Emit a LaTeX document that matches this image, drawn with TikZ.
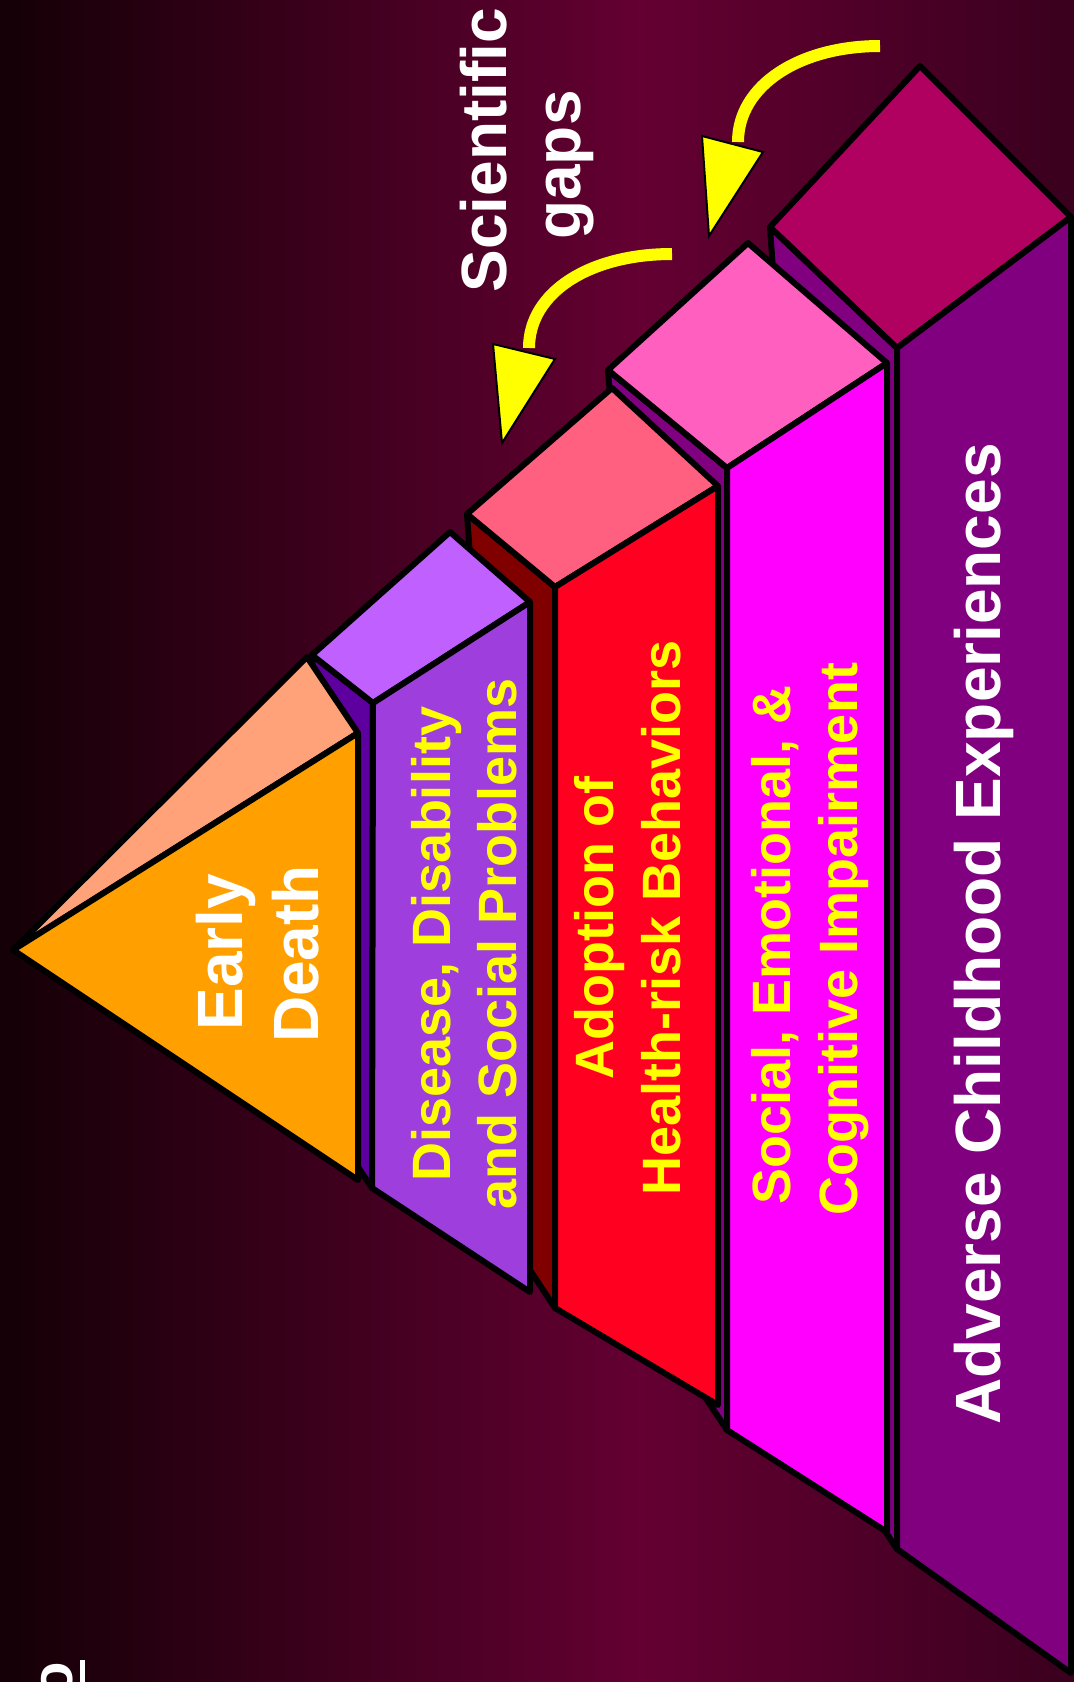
\documentclass[tikz,border=0pt]{standalone}
\usepackage{fontspec}
\setmainfont{Liberation Sans}
\usetikzlibrary{positioning,calc}

\definecolor{bgdark}{HTML}{140006}
\definecolor{bgmid}{HTML}{640032}
\definecolor{bgright}{HTML}{3A001E}
\definecolor{deathfront}{HTML}{FF9F00}
\definecolor{deathside}{HTML}{FFA27A}
\definecolor{disfront}{HTML}{9D3EDD}
\definecolor{distop}{HTML}{BF60FF}
\definecolor{disside}{HTML}{5E00A0}
\definecolor{adofront}{HTML}{FF0020}
\definecolor{adotop}{HTML}{FF6080}
\definecolor{adoside}{HTML}{800000}
\definecolor{socfront}{HTML}{FF00FF}
\definecolor{soctop}{HTML}{FF60C0}
\definecolor{socside}{HTML}{800080}
\definecolor{acefront}{HTML}{800080}
\definecolor{acetop}{HTML}{B00060}
\definecolor{aceside}{HTML}{800080}
\definecolor{textyellow}{HTML}{FFFF00}

\begin{document}
\begin{tikzpicture}[x=1pt,y=-1pt,
		face/.style={draw=black,line width=6pt,line join=round},
		lbl/.style={rotate=90,anchor=base,inner sep=0pt,text=textyellow,
			font=\bfseries\fontsize{54}{60}\selectfont},
		biglbl/.style={lbl,text=white,font=\bfseries\fontsize{64}{70}\selectfont},
		gapshaft/.style={draw=textyellow,line width=12pt},
		gaphead/.style={fill=textyellow,draw=black,line width=2pt,line join=miter}
	]
		\useasboundingbox (0,0) rectangle (1074,1682);
		\clip (0,0) rectangle (1074,1682);
		\shade[left color=bgdark,right color=bgmid] (0,0) rectangle (641,1682);
		\shade[left color=bgmid,right color=bgright] (640,0) rectangle (1074,1682);

		% base layer
		\filldraw[face,fill=aceside] (770,227) -- (897,348) -- (897,1549) -- (857,1489) -- cycle;
		\filldraw[face,fill=acetop] (770,227) -- (920,66) -- (1071,217) -- (897,348) -- cycle;
		\filldraw[face,fill=acefront] (897,348) -- (1071,217) -- (1071,1673) -- (897,1549) -- cycle;

		\filldraw[face,fill=socside] (608,370) -- (727,468) -- (727,1430) -- (687,1370) -- cycle;
		\filldraw[face,fill=soctop] (608,370) -- (748,243) -- (887,363) -- (727,468) -- cycle;
		\filldraw[face,fill=socfront] (727,468) -- (887,363) -- (887,1532) -- (727,1430) -- cycle;

		\filldraw[face,fill=adoside] (467,514) -- (555,587) -- (555,1308) -- (520,1255) -- cycle;
		\filldraw[face,fill=adotop] (467,514) -- (612,388) -- (718,486) -- (555,587) -- cycle;
		\filldraw[face,fill=adofront] (555,587) -- (718,486) -- (718,1405) -- (555,1308) -- cycle;

		\filldraw[face,fill=disside] (312,655) -- (373,703) -- (372,1188) -- (340,1140) -- cycle;
		\filldraw[face,fill=distop] (312,655) -- (450,532) -- (530,602) -- (373,703) -- cycle;
		\filldraw[face,fill=disfront] (373,703) -- (530,602) -- (530,1292) -- (372,1188) -- cycle;

		% top
		\filldraw[face,fill=deathside] (13,950) -- (307,657) -- (358,733) -- cycle;
		\filldraw[face,fill=deathfront] (13,950) -- (358,733) -- (358,1180) -- cycle;

		% gaps
		\coordinate (gapA-start) at (880,46);
		\coordinate (gapA-end) at (738,142);
		\coordinate (gapB-start) at (672,254);
		\coordinate (gapB-end) at (529,348);
		\draw[gapshaft] (gapA-start) .. controls (800,46) and (738,85) .. (gapA-end);
		\filldraw[gaphead] (702,136) -- (763,152) -- (709,236) -- cycle;
		\draw[gapshaft] (gapB-start) .. controls (590,254) and (529,292) .. (gapB-end);
		\filldraw[gaphead] (493,344) -- (555,359) -- (502,443) -- cycle;

		\node[biglbl] (sci) at (506,150) {Scientific};
		\node[biglbl] (gaps) at (580,165) {gaps};

		\node[biglbl] (early) at (242,952) {Early};
		\node[biglbl] (death) at (318,954) {Death};
		\node[lbl] (dis-a) at (450,944) {Disease, Disability};
		\node[lbl] (dis-b) at (516,944) {and Social Problems};
		\node[lbl] (ado-a) at (613,928) {Adoption of};
		\node[lbl] (ado-b) at (680,918) {Health-risk Behaviors};
		\node[lbl] (soc-a) at (790,945) {Social, Emotional, \&};
		\node[lbl] (soc-b) at (857,939) {Cognitive Impairment};
		\node[biglbl] (ace) at (1000,934) {Adverse Childhood Experiences};

		% cut-off title
		\node[biglbl,anchor=base east,font=\bfseries\fontsize{58}{60}\selectfont] (title) at (72,1662) {o};
		\fill[white] (80,1660) rectangle (85,1700);
	\end{tikzpicture}
\end{document}
